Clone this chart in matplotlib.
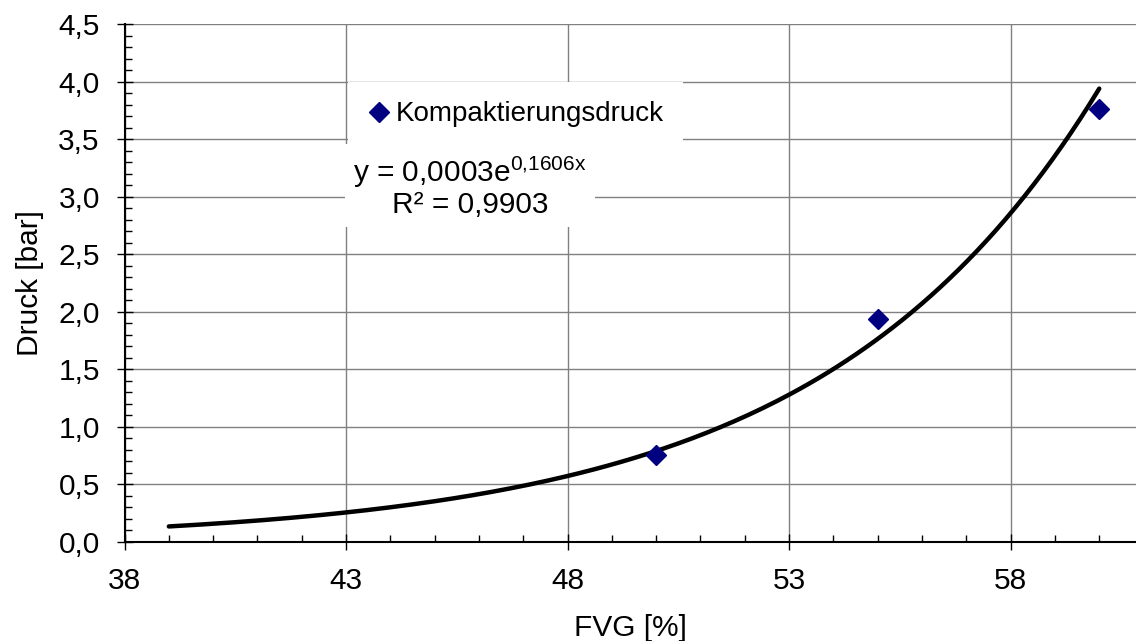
import numpy as np
import matplotlib
matplotlib.use("Agg")
import matplotlib.pyplot as plt
from matplotlib.ticker import FixedLocator, MultipleLocator, FuncFormatter

matplotlib.rcParams.update({
    'font.family': ['Liberation Sans', 'DejaVu Sans'],
    'font.size': 21.5,
    'mathtext.fontset': 'custom',
    'mathtext.rm': 'Liberation Sans',
    'mathtext.it': 'Liberation Sans',
})

# FVG [%] vs. compaction pressure [bar]
fvg = [50, 55, 60]
druck = [0.755, 1.934, 3.762]
series_label = 'Kompaktierungsdruck'
x_range = [39, 60]
x_ticks = [38, 43, 48, 53, 58]

# exponential trend line y = a*exp(b*x), fitted in log space
b, ln_a = np.polyfit(fvg, np.log(druck), 1)
a = np.exp(ln_a)
ln_y = np.log(druck)
pred = ln_a + b * np.array(fvg)
r2 = 1 - np.sum((ln_y - pred) ** 2) / np.sum((ln_y - ln_y.mean()) ** 2)

W, H = 1136, 641
fig = plt.figure(figsize=(W / 100, H / 100), dpi=100)
ax = fig.add_axes([124.5 / W, 1 - 542 / H, 1 - 124.5 / W, (542 - 24) / H])

xs = np.linspace(x_range[0], x_range[1], 200)
ax.plot(xs, a * np.exp(b * xs), color='black', lw=3.2, solid_capstyle='round', zorder=3)
ax.plot(fvg, druck, 'D', color='#000080', ms=10, ls='none', label=series_label, zorder=4)

ax.set_xlim(38, 60.83)
ax.set_ylim(0, 4.5)
ax.xaxis.set_major_locator(FixedLocator(x_ticks))
ax.xaxis.set_minor_locator(MultipleLocator(1))
ax.yaxis.set_major_locator(MultipleLocator(0.5))
ax.yaxis.set_minor_locator(MultipleLocator(0.1))
ax.yaxis.set_major_formatter(FuncFormatter(lambda v, p: f'{v:.1f}'.replace('.', ',')))
ax.xaxis.set_major_formatter(FuncFormatter(lambda v, p: f'{v:.0f}'))

ax.grid(True, which='major', color='#808080', lw=1)
ax.set_axisbelow(True)
for s in ['top', 'right']:
    ax.spines[s].set_visible(False)
for s in ['left', 'bottom']:
    ax.spines[s].set_linewidth(1.5)

ax.tick_params(which='major', direction='inout', length=11.5, width=1, pad=12)
ax.tick_params(which='minor', direction='in', length=5, width=1)

ax.set_xlabel('FVG [%]', labelpad=14)
ax.set_ylabel('Druck [bar]', labelpad=10)

leg = ax.legend(loc='upper left', bbox_to_anchor=(0.221, 0.888), frameon=True,
                fancybox=False, fontsize=20, handlelength=0.8, handletextpad=0.2,
                borderpad=0.7, borderaxespad=0)
leg.get_frame().set_facecolor('white')
leg.get_frame().set_edgecolor('none')
leg.get_frame().set_alpha(1)

b_txt = f'{b:.4f}'.replace('.', '{,}')
eq = f'y = {a:.4f}'.replace('.', ',') + f'e$^{{\\mathrm{{{b_txt}x}}}}$'
r2_txt = f'R² = {r2:.4f}'.replace('.', ',')
ax.text(0.3416, 0.686, eq + '\n' + r2_txt, transform=ax.transAxes,
        ha='center', va='center', multialignment='center', linespacing=1.05,
        bbox=dict(facecolor='white', edgecolor='none', pad=6), zorder=5)

fig.savefig('out.png', dpi=100)
